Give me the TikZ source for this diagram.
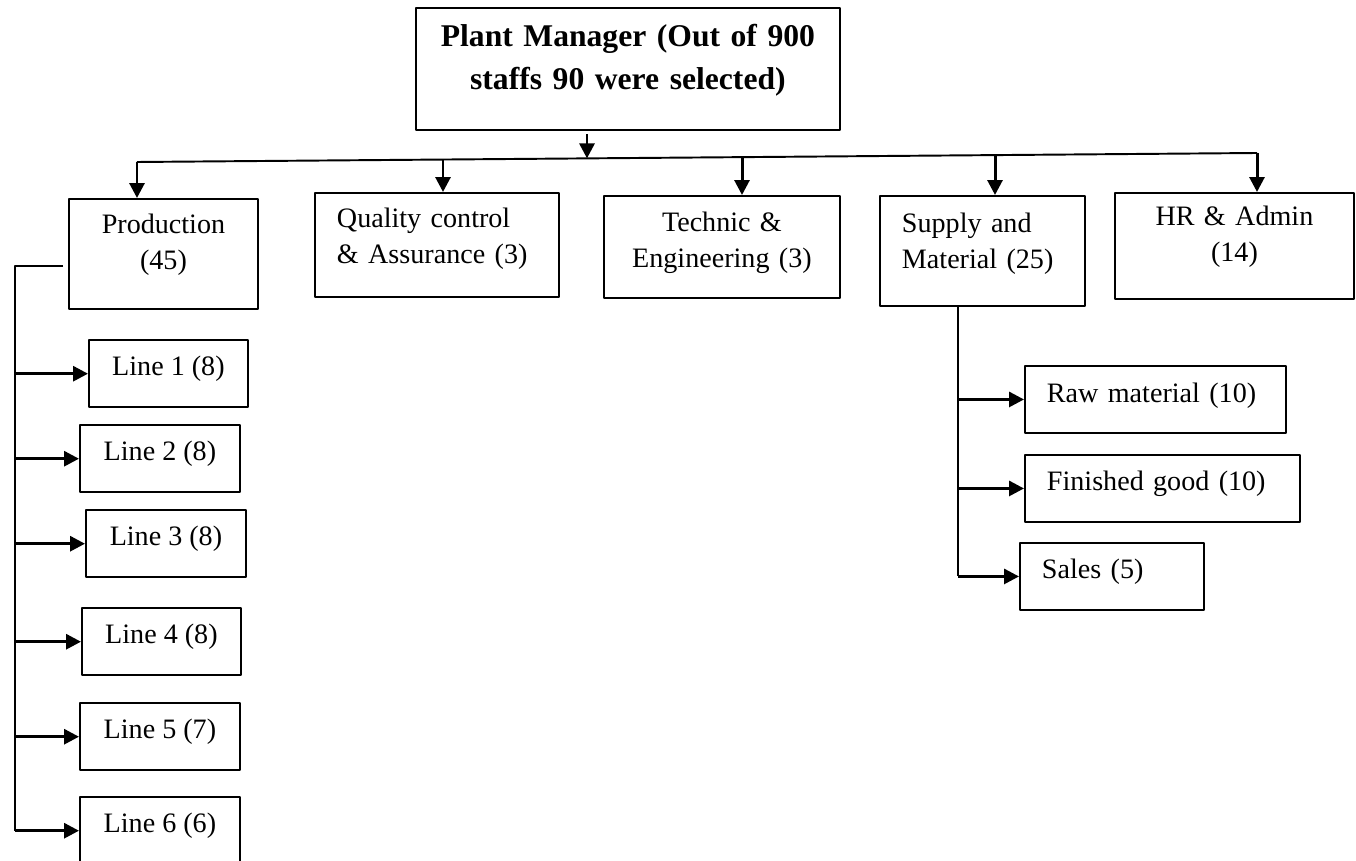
\documentclass[tikz,border=0pt]{standalone}
\usepackage{fontspec}
\setmainfont{Liberation Serif}
\usetikzlibrary{arrows.meta}
\begin{document}
\begin{tikzpicture}[x=0.02cm, y=-0.02cm, >={Triangle[length=8.5pt,width=8.5pt]},
	font=\fontsize{16}{20.5}\selectfont, line join=round,
	unit/.style={draw, line width=1.1pt, anchor=north west, inner xsep=0.44cm, inner ysep=0pt, text height=0.72cm},
	lbox/.style={unit, inner xsep=0.1cm, text depth=0.63cm},
	link/.style={line width=1.1pt},
	feed/.style={->, line width=1.7pt}]
	\useasboundingbox (0,0) rectangle (1356,861);
	\clip (0,0) rectangle (1356,861);
	% head
	\node[unit, font=\fontsize{18}{24.4}\selectfont\bfseries, inner xsep=0.2cm, text width=8.08cm, align=center, text height=0.78cm, text depth=1.66cm] (pm) at (415,7) {Plant Manager (Out of 900\\staffs 90 were selected)};
	% departments
	\node[unit, text width=2.9cm, align=center, text height=0.7cm, text depth=1.5cm] (prod) at (68,198) {Production\\(45)};
	\node[unit, text width=4cm, align=left, text height=0.7cm, text depth=1.38cm] (qc) at (314,192) {Quality control\\\& Assurance (3)};
	\node[unit, text width=3.84cm, align=center, text height=0.72cm, text depth=1.32cm] (tech) at (603,195) {Technic \&\\Engineering (3)};
	\node[unit, text width=3.22cm, align=left, text height=0.74cm, text depth=1.46cm] (supply) at (879,195) {Supply and\\Material (25)};
	\node[unit, text width=3.9cm, align=center, text height=0.66cm, text depth=1.46cm] (hr) at (1114,192) {HR \& Admin\\(14)};
	% production lines
	\node[lbox, minimum width=3.18cm] (l1) at (88,339) {Line 1 (8)};
	\node[lbox, minimum width=3.2cm] (l2) at (79,424) {Line 2 (8)};
	\node[lbox, minimum width=3.2cm] (l3) at (85,509) {Line 3 (8)};
	\node[lbox, minimum width=3.18cm] (l4) at (81,607) {Line 4 (8)};
	\node[lbox, minimum width=3.2cm] (l5) at (79,702) {Line 5 (7)};
	\node[lbox, minimum width=3.2cm] (l6) at (79,796) {Line 6 (6)};
	% supply units
	\node[unit, text width=4.34cm, align=left, text height=0.74cm, text depth=0.6cm] (raw) at (1024,365) {Raw material (10)};
	\node[unit, text width=4.62cm, align=left, text depth=0.62cm] (fin) at (1024,454) {Finished good (10)};
	\node[unit, text width=2.8cm, align=left, text depth=0.62cm] (sales) at (1019,542) {Sales (5)};
	% bus
	\coordinate (b1) at (137,162);
	\coordinate (b2) at (443,159.5);
	\coordinate (b3) at (742,157.1);
	\coordinate (b4) at (995,155.1);
	\coordinate (b5) at (1257,153);
	\coordinate (top) at (587,158.4);
	\draw[link] (b1)--(b5);
	\draw[feed] ([yshift=-2pt]top |- pm.south)--(top);
	\draw[feed] (b1)--(b1 |- prod.north);
	\draw[feed] (b2)--(b2 |- qc.north);
	\draw[feed] (b3)--(b3 |- tech.north);
	\draw[feed] (b4)--(b4 |- supply.north);
	\draw[feed] (b5)--(b5 |- hr.north);
	% production branch
	\coordinate (pbr) at (15,266);
	\draw[link] ([xshift=-0.1cm]pbr -| prod.west)--(pbr)--(pbr |- l6.west);
	\foreach \n in {l1,l2,l3,l4,l5,l6}
		\draw[feed] (pbr |- \n.west)--(\n.west);
	% supply branch
	\coordinate (sbr) at (958,305);
	\draw[link] (sbr |- supply.south)--(sbr |- sales.west);
	\foreach \n in {raw,fin,sales}
		\draw[feed] (sbr |- \n.west)--(\n.west);
\end{tikzpicture}
\end{document}
